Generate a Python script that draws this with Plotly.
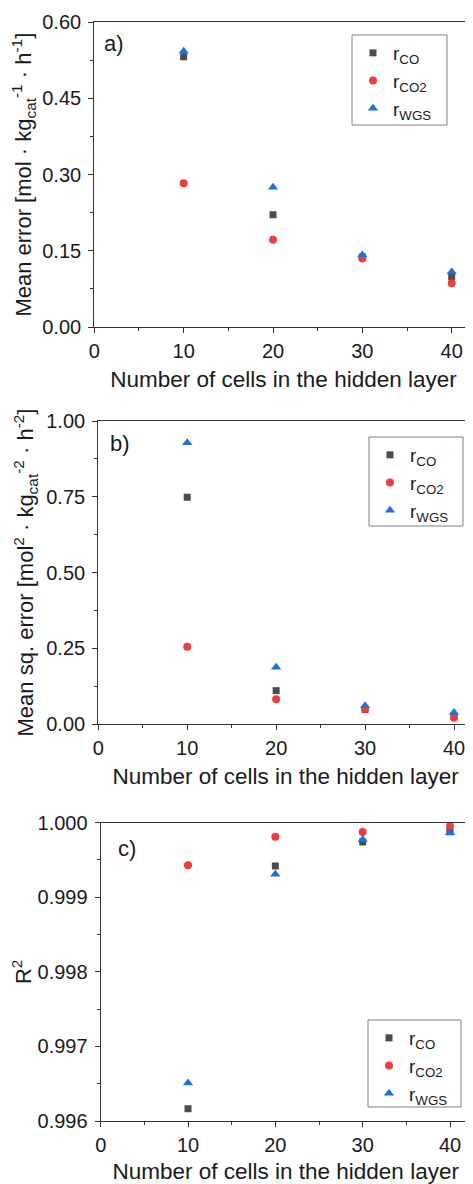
import plotly.graph_objects as go

cells = [10, 20, 30, 40]

# Panel a: mean error
me_co = [0.532, 0.221, 0.138, 0.099]
me_co2 = [0.283, 0.172, 0.135, 0.086]
me_wgs = [0.543, 0.275, 0.142, 0.109]

# Panel b: mean squared error
mse_co = [0.748, 0.110, 0.048, 0.025]
mse_co2 = [0.255, 0.082, 0.050, 0.021]
mse_wgs = [0.928, 0.187, 0.060, 0.038]

# Panel c: R^2
r2_co = [0.996165, 0.999419, 0.999741, 0.999880]
r2_co2 = [0.999428, 0.999812, 0.999875, 0.999955]
r2_wgs = [0.996510, 0.999310, 0.999776, 0.999866]

series_names = ["r<sub>CO</sub>", "r<sub>CO2</sub>", "r<sub>WGS</sub>"]
colors = ["#4d4d4d", "#f03c3c", "#1f6fe0"]
symbols = ["square", "circle", "triangle-up"]
sizes = [7, 8, 9]

x_title = "Number of cells in the hidden layer"
y_titles = [
    "Mean error [mol · kg<sub>cat</sub><sup>-1</sup> · h<sup>-1</sup>]",
    "Mean sq. error [mol<sup>2</sup> · kg<sub>cat</sub><sup>-2</sup> · h<sup>-2</sup>]",
    "R<sup>2</sup>",
]
panel_labels = ["a)", "b)", "c)"]

# The page body adds an 8 px margin at top/left; the window is 473x1184.
OFF = 8
W, H = 473 - OFF, 1184 - OFF
FONT = "Liberation Sans, Arial, sans-serif"
TXT = "#1a1a1a"
AX = "#333333"

# pixel geometry (window coords): plot-area left/right, top/bottom; x pixel of tick 40;
# legend frame (left, top, right, bottom); panel label position
panels = [
    dict(data=[me_co, me_co2, me_wgs], xdom=(94.3, 472.7), x40=451.7, ydom=(22.3, 327),
         yrange=[0, 0.6], dtick=0.15, fmt=".2f", legend="legend",
         box=(352, 35, 447, 125), lab=(102, 43)),
    dict(data=[mse_co, mse_co2, mse_wgs], xdom=(98.3, 473), x40=454.0, ydom=(421, 724),
         yrange=[0, 1.0], dtick=0.25, fmt=".2f", legend="legend2",
         box=(369, 437, 463, 526), lab=(108, 443)),
    dict(data=[r2_co, r2_co2, r2_wgs], xdom=(100.7, 470.7), x40=450.0, ydom=(822.7, 1121),
         yrange=[0.996, 1.0], dtick=0.001, fmt=".3f", legend="legend3",
         box=(368, 1020, 461, 1107), lab=(116, 848)),
]


def px(v):
    return (v - OFF) / W


def py(v):
    return 1 - (v - OFF) / H


fig = go.Figure()
layout = dict(
    width=W, height=H, margin=dict(l=0, r=0, t=0, b=0, pad=0, autoexpand=False),
    paper_bgcolor="white", plot_bgcolor="white",
    font=dict(family=FONT, size=19, color=TXT),
    showlegend=True, annotations=[], shapes=[],
)

for i, p in enumerate(panels):
    n = "" if i == 0 else str(i + 1)
    xa, ya = "x" + n, "y" + n
    for k in range(3):
        fig.add_trace(go.Scatter(
            x=cells, y=p["data"][k], mode="markers", name=series_names[k],
            marker=dict(symbol=symbols[k], color=colors[k], size=sizes[k], line=dict(width=0)),
            xaxis=xa, yaxis=ya, legend=p["legend"],
        ))
    px_per_unit = (p["x40"] - p["xdom"][0]) / 40.0
    xmax = (p["xdom"][1] - p["xdom"][0]) / px_per_unit
    layout["xaxis" + n] = dict(
        domain=[max(0, px(p["xdom"][0])), min(1, px(p["xdom"][1]))],
        range=[0, xmax], automargin=False,
        anchor=ya, showline=True, linecolor=AX, linewidth=1.2, mirror=True,
        ticks="outside", ticklen=5, tickwidth=1.2, tickcolor=AX,
        tick0=0, dtick=10, showgrid=False, zeroline=False,
        minor=dict(ticks="outside", ticklen=3, tickwidth=1.2, tickcolor=AX, dtick=5, showgrid=False),
        tickfont=dict(size=20, color=TXT), ticklabelstandoff=1,
        title=dict(text=x_title, font=dict(size=22.5, color=TXT), standoff=10),
    )
    layout["yaxis" + n] = dict(
        domain=[py(p["ydom"][1]), py(p["ydom"][0])],
        range=p["yrange"], anchor=xa, automargin=False,
        showline=True, linecolor=AX, linewidth=1.2, mirror=True,
        ticks="outside", ticklen=5, tickwidth=1.2, tickcolor=AX,
        tick0=p["yrange"][0], dtick=p["dtick"], tickformat=p["fmt"],
        showgrid=False, zeroline=False,
        minor=dict(ticks="outside", ticklen=3, tickwidth=1.2, tickcolor=AX, dtick=p["dtick"] / 2, showgrid=False),
        tickfont=dict(size=20, color=TXT), ticklabelstandoff=3,
        title=dict(text=y_titles[i], font=dict(size=22, color=TXT), standoff=6),
    )
    bx0, by0, bx1, by1 = p["box"]
    # legend entries placed inside the frame drawn below
    layout[p["legend"]] = dict(
        x=px(bx0 + 1), y=py(by0 - 1), xanchor="left", yanchor="top",
        bgcolor="rgba(255,255,255,0)", borderwidth=0,
        font=dict(size=19, color=TXT), tracegroupgap=0,
    )
    layout["shapes"].append(dict(
        type="rect", xref="paper", yref="paper",
        x0=px(bx0), x1=px(bx1), y0=py(by1), y1=py(by0),
        line=dict(color="#808080", width=1), fillcolor="rgba(0,0,0,0)", layer="above",
    ))
    layout["annotations"].append(dict(
        text=panel_labels[i], xref="paper", yref="paper",
        x=px(p["lab"][0]), y=py(p["lab"][1]), xanchor="left", yanchor="middle",
        showarrow=False, font=dict(size=22, color=TXT),
    ))

fig.update_layout(**layout)
fig.write_html("out.html")
